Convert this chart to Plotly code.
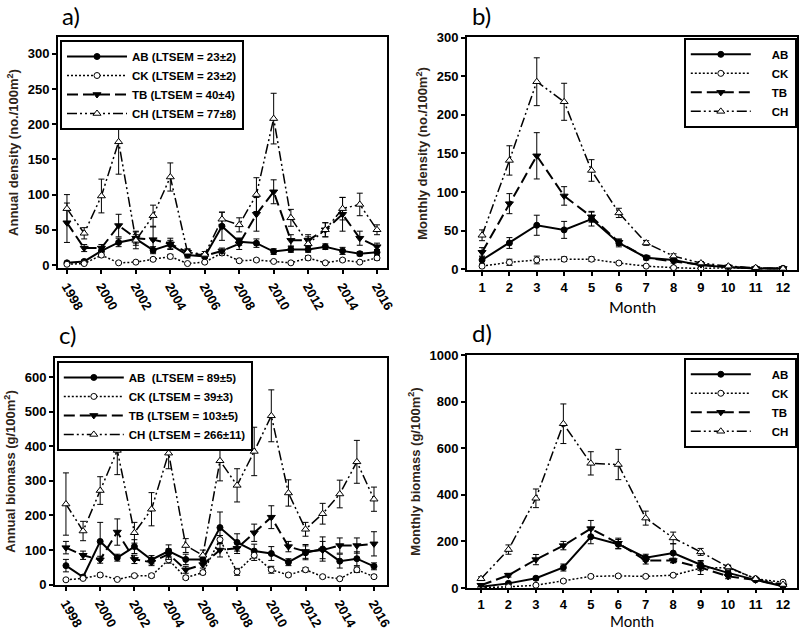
import plotly.graph_objects as go

years = list(range(1998, 2017))
months = list(range(1, 13))
series = ["AB", "CK", "TB", "CH"]

# Panel a: annual density (no./100m2)
a_AB = [3, 5, 20, 32, 37, 21, 29, 14, 12, 55, 33, 31, 19, 22, 22, 26, 20, 16, 18]
a_AB_err = [2, 2, 5, 6, 6, 5, 6, 4, 3, 20, 5, 6, 4, 4, 4, 4, 5, 3, 4]
a_CK = [1, 2, 14, 3, 4, 8, 12, 2, 4, 17, 6, 7, 5, 3, 10, 3, 7, 4, 10]
a_CK_err = [1, 1, 3, 1, 1, 2, 3, 1, 1, 3, 2, 2, 1, 1, 3, 1, 2, 1, 3]
a_TB = [60, 24, 24, 56, 38, 36, 30, 18, 13, 20, 30, 72, 104, 35, 35, 50, 72, 38, 26]
a_TB_err = [28, 5, 5, 16, 10, 18, 8, 4, 3, 4, 8, 24, 17, 8, 8, 10, 24, 10, 5]
a_CH = [80, 45, 98, 175, 35, 70, 125, 18, 15, 65, 57, 100, 208, 67, 30, 50, 80, 86, 50]
a_CH_err = [20, 8, 24, 46, 12, 15, 20, 5, 4, 10, 10, 24, 36, 12, 10, 10, 16, 16, 7]
a_labels = ["AB (LTSEM = 23±2)", "CK (LTSEM = 23±2)", "TB (LTSEM = 40±4)", "CH (LTSEM = 77±8)"]

# Panel b: monthly density (no./100m2)
b_AB = [12, 34, 57, 51, 65, 34, 15, 12, 5, 3, 1, 1]
b_AB_err = [5, 7, 13, 11, 9, 5, 3, 2, 1, 1, 0.5, 0.5]
b_CK = [4, 9, 12, 13, 13, 8, 4, 2, 1, 2, 1, 1]
b_CK_err = [2, 4, 5, 3, 3, 2, 1, 1, 0.5, 0.5, 0.5, 0.5]
b_TB = [22, 85, 147, 95, 68, 35, 15, 10, 6, 3, 1, 1]
b_TB_err = [6, 13, 30, 12, 7, 4, 2, 2, 1, 1, 0.5, 0.5]
b_CH = [44, 141, 243, 217, 128, 73, 34, 17, 8, 4, 2, 1]
b_CH_err = [7, 19, 31, 24, 14, 6, 3, 3, 2, 1, 0.5, 0.5]
b_labels = ["AB", "CK", "TB", "CH"]

# Panel c: annual biomass (g/100m2)
c_AB = [55, 22, 125, 78, 110, 72, 97, 73, 73, 165, 122, 97, 90, 65, 92, 103, 68, 75, 53]
c_AB_err = [18, 5, 55, 10, 20, 12, 18, 15, 10, 45, 25, 20, 20, 10, 20, 35, 20, 20, 10]
c_CK = [14, 18, 28, 15, 26, 26, 72, 20, 35, 130, 37, 85, 43, 28, 43, 23, 17, 43, 23]
c_CK_err = [3, 3, 5, 3, 4, 5, 10, 5, 6, 12, 10, 15, 10, 5, 6, 4, 3, 8, 5]
c_TB = [107, 85, 72, 152, 73, 65, 88, 43, 58, 100, 105, 150, 195, 110, 96, 100, 113, 113, 118]
c_TB_err = [18, 12, 10, 38, 12, 10, 15, 10, 10, 20, 15, 25, 33, 15, 20, 25, 22, 22, 35]
c_CH = [233, 155, 272, 388, 150, 218, 380, 113, 85, 358, 287, 385, 488, 265, 160, 205, 262, 355, 247]
c_CH_err = [90, 28, 40, 70, 30, 48, 45, 20, 15, 58, 48, 70, 75, 38, 20, 30, 40, 62, 35]
c_labels = ["AB\u00a0 (LTSEM = 89±5)", "CK (LTSEM = 39±3)", "TB (LTSEM = 103±5)", "CH (LTSEM = 266±11)"]

# Panel d: monthly biomass (g/100m2)
d_AB = [5, 20, 42, 88, 220, 188, 130, 150, 100, 65, 35, 8]
d_AB_err = [2, 5, 8, 15, 30, 20, 15, 40, 15, 10, 5, 3]
d_CK = [2, 5, 12, 30, 50, 52, 50, 55, 85, 88, 40, 25]
d_CK_err = [1, 2, 3, 5, 6, 6, 6, 6, 10, 8, 5, 3]
d_TB = [12, 55, 122, 182, 255, 192, 118, 118, 88, 50, 35, 10]
d_TB_err = [4, 8, 22, 18, 35, 22, 15, 10, 30, 10, 5, 3]
d_CH = [40, 165, 385, 705, 535, 530, 300, 215, 155, 90, 40, 15]
d_CH_err = [8, 20, 40, 85, 50, 65, 30, 25, 15, 8, 5, 3]
d_labels = ["AB", "CK", "TB", "CH"]

styles = {
    "AB": dict(dash="solid", width=2, symbol="circle", fill="black", size=6),
    "CK": dict(dash="2px,2px", width=1.5, symbol="circle", fill="white", size=6),
    "TB": dict(dash="11px,5px", width=2, symbol="triangle-down", fill="black", size=7),
    "CH": dict(dash="10px,3px,2px,3px,2px,3px", width=1.5, symbol="triangle-up", fill="white", size=7),
}

fig = go.Figure()

panels = [
    ("x", "y", "legend", years, [a_AB, a_CK, a_TB, a_CH], [a_AB_err, a_CK_err, a_TB_err, a_CH_err], a_labels, ""),
    ("x2", "y2", "legend2", months, [b_AB, b_CK, b_TB, b_CH], [b_AB_err, b_CK_err, b_TB_err, b_CH_err], b_labels, "\u00a0\u00a0\u00a0\u00a0\u00a0"),
    ("x3", "y3", "legend3", years, [c_AB, c_CK, c_TB, c_CH], [c_AB_err, c_CK_err, c_TB_err, c_CH_err], c_labels, ""),
    ("x4", "y4", "legend4", months, [d_AB, d_CK, d_TB, d_CH], [d_AB_err, d_CK_err, d_TB_err, d_CH_err], d_labels, "\u00a0\u00a0\u00a0\u00a0\u00a0"),
]

for xa, ya, lg, xs, vals, errs, labels, pad in panels:
    for s, v, e, lab in zip(series, vals, errs, labels):
        st = styles[s]
        fig.add_trace(go.Scatter(
            x=xs, y=v, name="%s<b>%s</b>" % (pad, lab), mode="lines+markers",
            xaxis=xa, yaxis=ya, legend=lg,
            line=dict(color="black", width=st["width"], dash=st["dash"]),
            marker=dict(symbol=st["symbol"], size=st["size"], color=st["fill"],
                        line=dict(color="black", width=1)),
            error_y=dict(type="data", array=e, visible=True, color="black",
                         thickness=1, width=3),
        ))

tickfont = dict(family="Liberation Sans, Arial, sans-serif", size=13, color="black")
titlefont = dict(family="Liberation Sans, Arial, sans-serif", size=13, color="#2e2418")
bold = "<b>%s</b>"

def axis_common():
    return dict(showline=True, linecolor="black", linewidth=2, mirror=True,
                ticks="outside", ticklen=4, tickwidth=1.5, tickcolor="black",
                showgrid=False, zeroline=False, tickfont=tickfont, automargin=False)

xa_year = dict(axis_common(), tickmode="array", tickvals=list(range(1998, 2017, 2)),
               ticktext=[bold % str(y) for y in range(1998, 2017, 2)], tickangle=60)
xa_month = dict(axis_common(), tickmode="array", tickvals=months,
                ticktext=[bold % str(m) for m in months])

def yax(vals, title):
    return dict(axis_common(), tickmode="array", tickvals=vals,
                ticktext=[bold % str(v) for v in vals],
                title=dict(text=bold % title, font=titlefont, standoff=6))

legend_common = dict(bgcolor="white", bordercolor="black", borderwidth=2,
                     font=dict(family="Liberation Sans, Arial, sans-serif", size=11.5, color="black"),
                     itemwidth=60, tracegroupgap=0, yanchor="top")

fig.update_layout(
    template="none",
    width=800, height=631,
    margin=dict(l=0, r=0, t=0, b=0, autoexpand=False),
    paper_bgcolor="white", plot_bgcolor="white",
    xaxis=dict(xa_year, domain=[0.0725, 0.48375], range=[1997.48, 2016.58], anchor="y"),
    yaxis=dict(yax([0, 50, 100, 150, 200, 250, 300], "Annual density (no./100m<sup>2</sup>)"),
               domain=[0.5753, 0.9414], range=[-4.3, 324], anchor="x"),
    xaxis2=dict(xa_month, domain=[0.58375, 0.99625], range=[0.45, 12.51], anchor="y2"),
    yaxis2=dict(yax([0, 50, 100, 150, 200, 250, 300], "Monthly density (no./100m<sup>2</sup>)"),
                domain=[0.5721, 0.9414], range=[-1, 301], anchor="x2"),
    xaxis3=dict(xa_year, domain=[0.06875, 0.48375], range=[1997.36, 2016.76], anchor="y3"),
    yaxis3=dict(yax([0, 100, 200, 300, 400, 500, 600], "Annual biomass (g/100m<sup>2</sup>)"),
                domain=[0.0729, 0.4326], range=[-1, 655], anchor="x3"),
    xaxis4=dict(xa_month, domain=[0.58375, 0.99625], range=[0.49, 12.51], anchor="y4", ticklen=3),
    yaxis4=dict(yax([0, 200, 400, 600, 800, 1000], "Monthly biomass (g/100m<sup>2</sup>)"),
                domain=[0.0681, 0.4374], range=[0, 1000], anchor="x4"),
    legend=dict(legend_common, x=0.075, y=0.9366, xanchor="left"),
    legend2=dict(legend_common, x=0.996, y=0.94, xanchor="right"),
    legend3=dict(legend_common, x=0.071, y=0.428, xanchor="left"),
    legend4=dict(legend_common, x=0.996, y=0.433, xanchor="right"),
    showlegend=True,
)

label_font = dict(family="Lato, sans-serif", size=24, color="black")
for txt, x, y in [("a)", 60, 16), ("b)", 470, 16), ("c)", 57, 334), ("d)", 470, 332)]:
    fig.add_annotation(text=txt, x=x / 800, y=1 - y / 631, xref="paper", yref="paper",
                       xanchor="left", yanchor="middle", showarrow=False, font=label_font)

fig.add_annotation(text="Month", x=632 / 800, y=1 - 306 / 631, xref="paper", yref="paper",
                   xanchor="center", yanchor="middle", showarrow=False,
                   font=dict(family="Lato, sans-serif", size=16, color="black"))
fig.add_annotation(text="Month", x=632 / 800, y=0, xref="paper", yref="paper", borderpad=0,
                   xanchor="center", yanchor="bottom", showarrow=False,
                   font=dict(family="Lato, sans-serif", size=15, color="black"))

fig.write_html("out.html", config={"displayModeBar": False},
               post_script="document.body.style.margin='0';document.body.style.overflow='hidden';")
